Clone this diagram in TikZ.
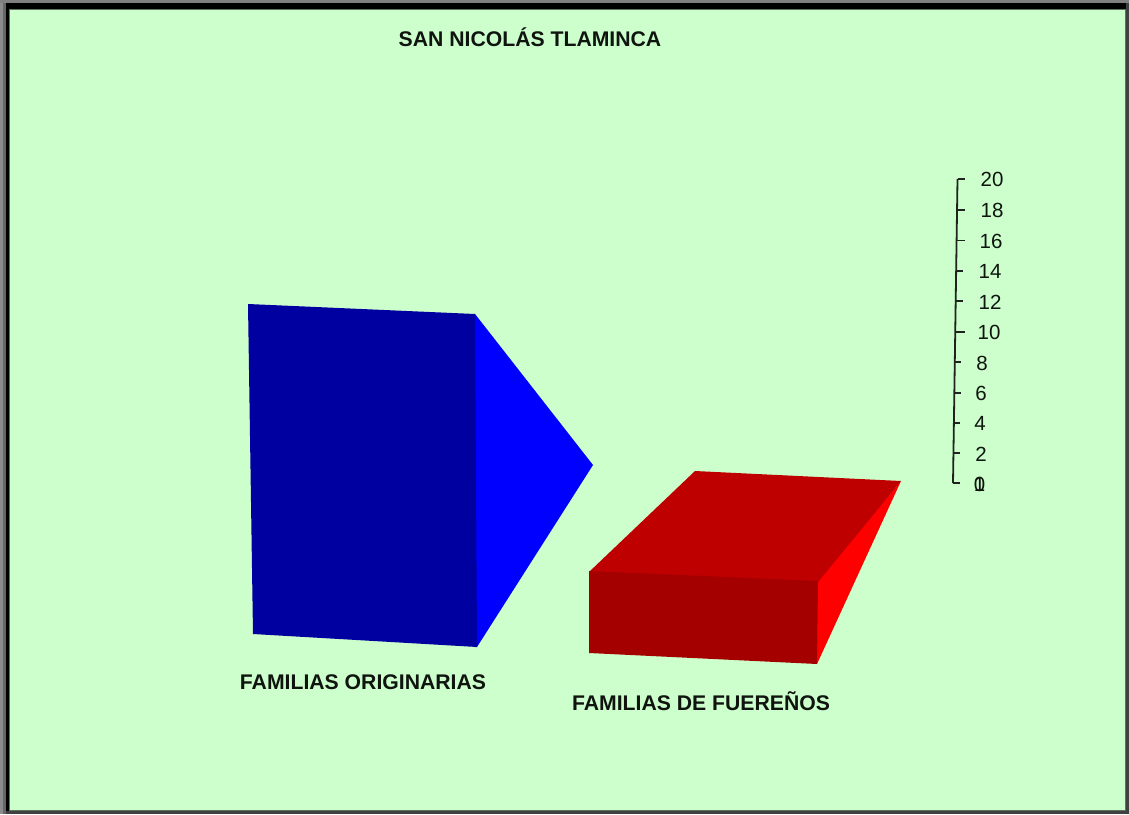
\documentclass[tikz,border=0pt]{standalone}
\usepackage{fontspec}
\setmainfont{Liberation Sans}
\definecolor{bgc}{RGB}{204,255,204}
\definecolor{bluefront}{RGB}{0,0,160}
\definecolor{blueside}{RGB}{0,0,255}
\definecolor{redtop}{RGB}{190,0,0}
\definecolor{redfront}{RGB}{165,0,0}
\definecolor{redside}{RGB}{255,0,0}
\definecolor{axisc}{RGB}{30,35,30}
\definecolor{labc}{RGB}{15,20,15}
\tikzset{
  x=1pt,y=-1pt,
  caption/.style={font=\fontsize{21.2}{23}\selectfont\bfseries,text=labc,inner sep=0pt,anchor=center},
  ticklabel/.style={font=\fontsize{20.5}{22}\selectfont,text=labc,inner sep=0pt,anchor=center},
  axisline/.style={draw=axisc,line width=1.8pt},
  tickline/.style={draw=axisc,line width=1.5pt}
}
\begin{document}
\begin{tikzpicture}
\useasboundingbox (0,0) rectangle (1129,814);
% window frame
\fill[black!75] (0,0) rectangle (1129,814);
\fill[black!45] (0,0) rectangle (3,814);
\fill[black!60] (3,0) rectangle (6,814);
\fill[black!50] (0,0) rectangle (1129,3);
\fill[black] (6,3) rectangle (1126,811);
\fill[black!55!bgc] (9,9) rectangle (1126,811);
\fill[bgc] (10,10) rectangle (1125,810);
% blue bar
\fill[blueside] (474,314) -- (475,314) -- (593,465) -- (477,647) -- (475,647) -- cycle;
\fill[bluefront] (248,304) -- (475,314) -- (477,647) -- (253,634) -- cycle;
% red bar
\fill[redside] (901,481) -- (817,581) -- (817,664) -- cycle;
\fill[redtop] (695,471) -- (901,481) -- (818,582) -- (589,572) -- cycle;
\fill[redfront] (589,571) -- (818,581) -- (817,664) -- (589,653) -- cycle;
% axis
\coordinate (axT) at (957.5,179);
\coordinate (axB) at (953,483);
\draw[axisline] (axT) -- (axB);
\draw[tickline] (957.5,179) -- (965,179);
\draw[tickline] (957,210) -- (965,210);
\draw[tickline] (956.5,240.5) -- (965,240.5);
\draw[tickline] (956,271) -- (963,271);
\draw[tickline] (955.5,301) -- (963,301);
\draw[tickline] (955,332) -- (965,332);
\draw[tickline] (955,362) -- (961,362);
\draw[tickline] (954.5,393) -- (961,393);
\draw[tickline] (954,423) -- (960,423);
\draw[tickline] (953.5,453) -- (960,453);
\draw[tickline] (953,483) -- (960,483);
\node[ticklabel] (t20) at (992,179.5) {20};
\node[ticklabel] (t18) at (992,210.5) {18};
\node[ticklabel] (t16) at (991,241.5) {16};
\node[ticklabel] (t14) at (990,271.5) {14};
\node[ticklabel] (t12) at (990,302.5) {12};
\node[ticklabel] (t10) at (989,332.5) {10};
\node[ticklabel] (t8) at (982,363.5) {8};
\node[ticklabel] (t6) at (981,393.5) {6};
\node[ticklabel] (t4) at (980,423.5) {4};
\node[ticklabel] (t2) at (981,454) {2};
\node[ticklabel] (t0) at (979.5,484.5) {0};
\node[ticklabel] (t1) at (979.5,484.5) {1};
% captions
\node[caption] (title) at (530,37.5) {SAN NICOLÁS TLAMINCA};
\node[caption] (c1) at (363,682) {FAMILIAS ORIGINARIAS};
\node[caption] (c2) at (701,701) {FAMILIAS DE FUEREÑOS};
\end{tikzpicture}
\end{document}
